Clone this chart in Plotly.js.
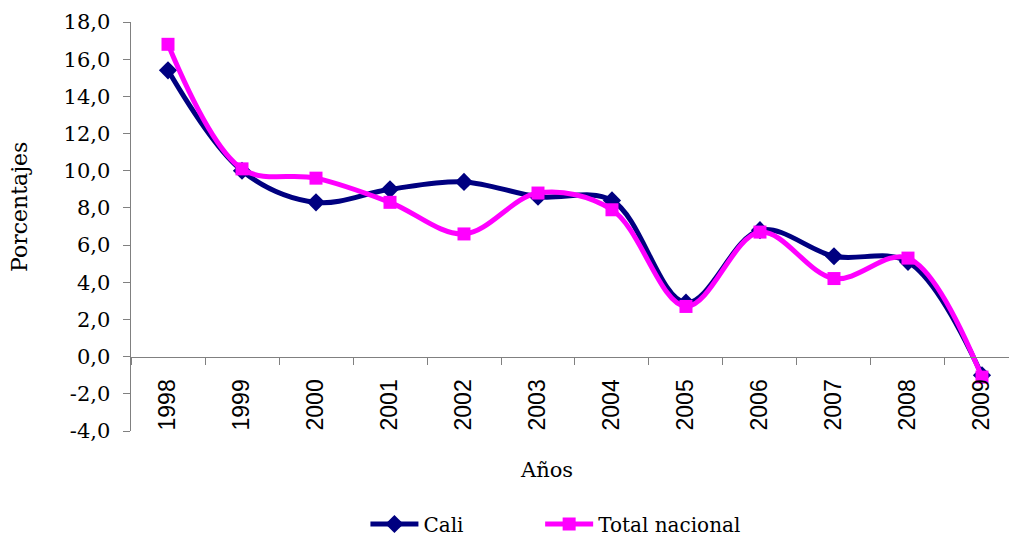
<!DOCTYPE html>
<html><head><meta charset="utf-8">
<script src="https://cdn.plot.ly/plotly-3.0.1.min.js"></script>
<style>body{margin:0;background:#fff}#chart{width:1010px;height:537px}</style>
</head><body><div id="chart"></div>
<script>
const years = ['1998','1999','2000','2001','2002','2003','2004','2005','2006','2007','2008','2009'];
const cali = [15.4, 10.0, 8.3, 9.0, 9.4, 8.6, 8.4, 2.9, 6.8, 5.4, 5.1, -1.0];
const totalNacional = [16.8, 10.1, 9.6, 8.3, 6.6, 8.8, 7.9, 2.7, 6.7, 4.2, 5.3, -1.1];
const yTicks = [-4, -2, 0, 2, 4, 6, 8, 10, 12, 14, 16, 18];
const yTickText = yTicks.map(v => v.toFixed(1).replace('.', ','));
const xTitle = 'Años';
const yTitle = 'Porcentajes';

const serif = 'DejaVu Serif, serif';
const traces = [
  {x: years, y: cali, name: 'Cali', type: 'scatter', mode: 'lines+markers', legend: 'legend',
   line: {color: '#000080', width: 5, shape: 'spline', smoothing: 1},
   marker: {symbol: 'diamond', size: 14, color: '#000080'}},
  {x: years, y: totalNacional, name: 'Total nacional', type: 'scatter', mode: 'lines+markers', legend: 'legend2',
   line: {color: '#FF00FF', width: 5, shape: 'spline', smoothing: 1},
   marker: {symbol: 'square', size: 13, color: '#FF00FF'}}
];
const legendFont = {family: serif, size: 20, color: '#000'};
const layout = {
  width: 1010, height: 537,
  margin: {l: 131, r: 1, t: 22, b: 106, autoexpand: false},
  paper_bgcolor: '#fff', plot_bgcolor: '#fff',
  showlegend: true,
  legend: {orientation: 'h', x: 0.267, xanchor: 'left', y: -0.2274, yanchor: 'middle',
           font: legendFont, itemwidth: 48, bgcolor: 'rgba(0,0,0,0)', borderwidth: 0},
  legend2: {orientation: 'h', x: 0.466, xanchor: 'left', y: -0.2274, yanchor: 'middle',
           font: legendFont, itemwidth: 48, bgcolor: 'rgba(0,0,0,0)', borderwidth: 0},
  xaxis: {type: 'category', range: [-0.5, 11.365], anchor: 'free', position: 4/22,
          automargin: false,
          showline: true, linecolor: '#808080', linewidth: 1.5,
          ticks: 'outside', tickson: 'boundaries', ticklen: 7, tickcolor: '#808080',
          ticklabelstandoff: 12,
          tickangle: -90, showgrid: false, zeroline: false,
          tickfont: {family: 'Liberation Sans, Arial, sans-serif', size: 23, color: '#000'}},
  yaxis: {range: [-4, 18], tickvals: yTicks, ticktext: yTickText, automargin: false,
          showline: true, linecolor: '#808080', linewidth: 1.5,
          ticks: 'outside', ticklen: 7, tickcolor: '#808080', ticklabelstandoff: 8,
          showgrid: false, zeroline: false,
          tickfont: {family: serif, size: 21, color: '#000'}},
  annotations: [
    {text: xTitle, xref: 'paper', yref: 'paper', x: 0.4738, y: -0.0954,
     xanchor: 'center', yanchor: 'middle', showarrow: false,
     font: {family: serif, size: 21, color: '#000'}},
    {text: yTitle, xref: 'paper', yref: 'paper', x: -0.1264, y: 0.5477, textangle: -90,
     xanchor: 'center', yanchor: 'middle', showarrow: false,
     font: {family: serif, size: 22, color: '#000'}}
  ]
};
Plotly.newPlot('chart', traces, layout, {displayModeBar: false, staticPlot: true});
</script></body></html>
